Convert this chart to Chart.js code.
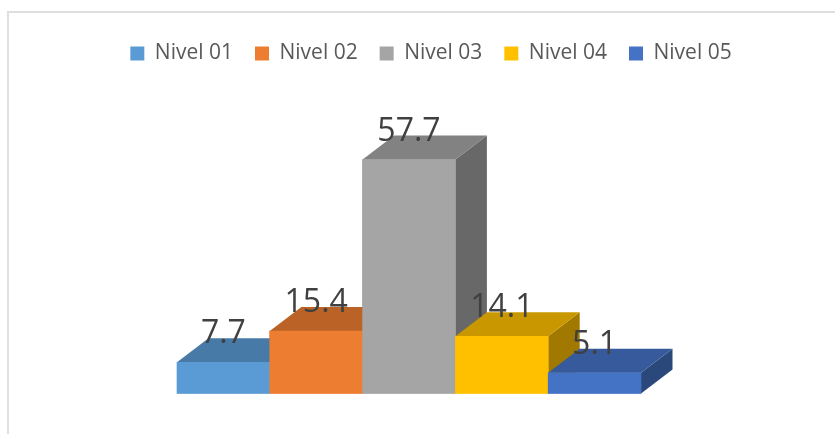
<!DOCTYPE html>
<html>
<head>
<meta charset="utf-8">
<title>Nivel</title>
<script src="https://cdn.jsdelivr.net/npm/chart.js@4"></script>
<style>
  html, body { margin: 0; padding: 0; background: #fff; }
  #wrap { position: relative; width: 835px; height: 434px; overflow: hidden; }
  #frame { position: absolute; left: 7px; top: 11px; width: 840px; height: 440px; border: 2px solid #dfdfdf; box-sizing: border-box; }
  canvas { position: relative; display: block; }
</style>
</head>
<body>
<div id="wrap">
  <div id="frame"></div>
  <canvas id="chart" width="835" height="434"></canvas>
</div>
<script>
const niveis = ["Nivel 01", "Nivel 02", "Nivel 03", "Nivel 04", "Nivel 05"];
const valores = [7.7, 15.4, 57.7, 14.1, 5.1];
const cores = ["#5B9BD5", "#ED7D31", "#A5A5A5", "#FFC000", "#4472C4"];

// profundidade do efeito 3D
const depthX = 31.5;
const depthY = 24;

function escurecer(hex, f) {
  const n = parseInt(hex.slice(1), 16);
  const r = Math.round(((n >> 16) & 255) * f);
  const g = Math.round(((n >> 8) & 255) * f);
  const b = Math.round((n & 255) * f);
  return `rgb(${r},${g},${b})`;
}

function face(ctx, pts, cor) {
  ctx.fillStyle = cor;
  ctx.beginPath();
  ctx.moveTo(pts[0][0], pts[0][1]);
  for (let i = 1; i < pts.length; i++) ctx.lineTo(pts[i][0], pts[i][1]);
  ctx.closePath();
  ctx.fill();
}

// Desenha lateral e topo de cada barra, da esquerda para a direita
const barras3d = {
  id: "barras3d",
  afterDatasetsDraw(chart) {
    const ctx = chart.ctx;
    const meta = chart.getDatasetMeta(0);
    meta.data.forEach((bar, i) => {
      const esq = bar.x - bar.width / 2;
      const dir = bar.x + bar.width / 2;
      face(ctx, [[dir, bar.base], [dir + depthX, bar.base - depthY], [dir + depthX, bar.y - depthY], [dir, bar.y]], escurecer(cores[i], 0.63));
      face(ctx, [[esq, bar.y], [esq + depthX, bar.y - depthY], [dir + depthX, bar.y - depthY], [dir, bar.y]], escurecer(cores[i], 0.79));
      bar.draw(ctx);
    });
    // Rotulos de valor
    ctx.fillStyle = "#404040";
    ctx.font = '32px "Open Sans"';
    ctx.textAlign = "center";
    ctx.textBaseline = "alphabetic";
    meta.data.forEach((bar, i) => {
      ctx.fillText(valores[i].toFixed(1), bar.x, bar.y - 19);
    });
  },
};

new Chart(document.getElementById("chart"), {
  type: "bar",
  data: {
    labels: niveis,
    datasets: [{ data: valores, backgroundColor: cores, borderWidth: 0, categoryPercentage: 1, barPercentage: 1 }],
  },
  plugins: [barras3d],
  options: {
    responsive: false,
    animation: false,
    layout: { padding: { left: 27, right: 0, top: 21, bottom: 40.5 } },
    scales: {
      x: { display: false },
      y: {
        min: 0,
        max: 78.8,
        grid: { display: false },
        border: { display: false },
        ticks: { display: false },
        afterFit(s) { s.width = 150; },
      },
      margem: {
        position: "right",
        grid: { display: false },
        border: { display: false },
        ticks: { display: false },
        afterFit(s) { s.width = 194; },
      },
    },
    plugins: {
      tooltip: { enabled: false },
      legend: {
        position: "top",
        labels: {
          color: "#595959",
          font: { family: '"Open Sans"', size: 21 },
          boxWidth: 14,
          boxHeight: 14,
          padding: 22,
          generateLabels() {
            return niveis.map((nome, i) => ({ text: nome, fillStyle: cores[i], strokeStyle: cores[i], lineWidth: 0, fontColor: "#595959" }));
          },
        },
      },
    },
  },
});
</script>
</body>
</html>
